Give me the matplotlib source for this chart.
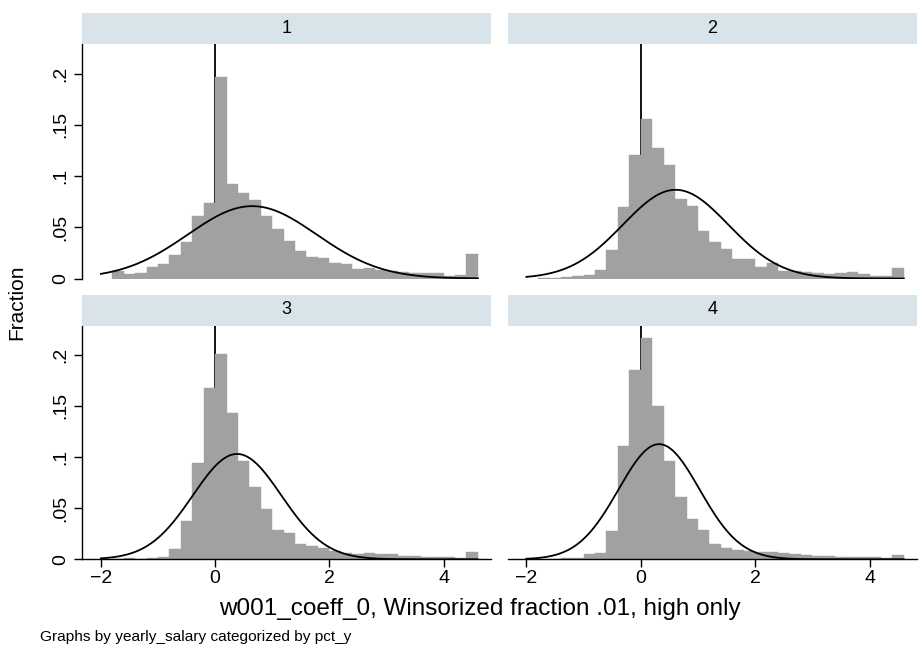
import numpy as np
import matplotlib.pyplot as plt
from matplotlib.patches import Rectangle

plt.rcParams['font.family'] = ['Liberation Sans', 'DejaVu Sans']

# histogram bins: width 0.2 starting at -1.8
bin_start = -1.8
bin_width = 0.2

groups = ['1', '2', '3', '4']

frac_1 = [0.0078, 0.0046, 0.0050, 0.0110, 0.0140, 0.0230, 0.0360, 0.0610,
          0.0740, 0.1970, 0.0920, 0.0830, 0.0770, 0.0610, 0.0480, 0.0370,
          0.0270, 0.0210, 0.0200, 0.0150, 0.0137, 0.0090, 0.0100, 0.0085,
          0.0070, 0.0060, 0.0055, 0.0050, 0.0055, 0.0026, 0.0036, 0.0240]
frac_2 = [0.0007, 0.0007, 0.0010, 0.0020, 0.0030, 0.0085, 0.0280, 0.0695,
          0.1206, 0.1560, 0.1270, 0.1110, 0.0780, 0.0705, 0.0460, 0.0360,
          0.0290, 0.0195, 0.0190, 0.0117, 0.0150, 0.0078, 0.0078, 0.0068,
          0.0055, 0.0045, 0.0050, 0.0060, 0.0045, 0.0026, 0.0023, 0.0098]
frac_3 = [0.0003, 0.0010, 0.0003, 0.0013, 0.0023, 0.0100, 0.0377, 0.0946,
          0.1677, 0.2009, 0.1427, 0.0956, 0.0705, 0.0490, 0.0286, 0.0254,
          0.0146, 0.0130, 0.0110, 0.0085, 0.0060, 0.0049, 0.0058, 0.0055,
          0.0049, 0.0032, 0.0030, 0.0023, 0.0023, 0.0020, 0.0013, 0.0068]
frac_4 = [0.0007, 0.0007, 0.0013, 0.0016, 0.0052, 0.0065, 0.0280, 0.1110,
          0.1850, 0.2165, 0.1500, 0.0965, 0.0610, 0.0390, 0.0286, 0.0146,
          0.0114, 0.0094, 0.0081, 0.0068, 0.0072, 0.0065, 0.0052, 0.0042,
          0.0032, 0.0030, 0.0026, 0.0020, 0.0020, 0.0020, 0.0013, 0.0040]

# normal overlay parameters (mean, sd) per group
norm_mean = [0.65, 0.61, 0.385, 0.32]
norm_sd = [1.13, 0.922, 0.775, 0.709]

xticks = [-2, 0, 2, 4]
yticks = [0, 0.05, 0.1, 0.15, 0.2]
ytick_labels = ['0', '.05', '.1', '.15', '.2']

W, H = 921, 653
fig = plt.figure(figsize=(W / 100, H / 100), dpi=100)

# pixel boxes (left, top, right, bottom) of the four plot regions
boxes = [(82, 44.3, 491, 278.5), (507.5, 44.3, 917, 278.5),
         (82, 325.5, 491, 559.3), (507.5, 325.5, 917, 559.3)]
strip_h = 31

bar_color = '#a1a1a1'
strip_color = '#d8e4ea'
fs_tick = 14

data = [frac_1, frac_2, frac_3, frac_4]
for k, (l, t, r, b) in enumerate(boxes):
    ax = fig.add_axes([l / W, 1 - b / H, (r - l) / W, (b - t) / H])
    fr = np.array(data[k])
    lefts = bin_start + bin_width * np.arange(len(fr))
    ax.axvline(0, color='black', lw=1.3, zorder=1)
    ax.bar(lefts, fr, width=bin_width, align='edge', color=bar_color,
           edgecolor=bar_color, lw=0.3, zorder=2)
    xs = np.linspace(-2, 4.6, 400)
    dens = bin_width * np.exp(-0.5 * ((xs - norm_mean[k]) / norm_sd[k]) ** 2) \
        / (norm_sd[k] * np.sqrt(2 * np.pi))
    ax.plot(xs, dens, color='black', lw=1.3, zorder=3)
    ax.set_xlim(-2.33, 4.83)
    ax.set_ylim(0, 0.2285)

    for s in ['top', 'right']:
        ax.spines[s].set_visible(False)
    left_col = k % 2 == 0
    bottom_row = k >= 2
    ax.spines['left'].set_visible(left_col)
    ax.spines['bottom'].set_visible(bottom_row)
    for s in ['left', 'bottom']:
        ax.spines[s].set_linewidth(1.0)

    if left_col:
        ax.set_yticks(yticks)
        ax.set_yticklabels(ytick_labels, rotation=90, va='center')
        ax.tick_params(axis='y', length=6, width=1.0, labelsize=fs_tick, pad=3)
    else:
        ax.set_yticks([])
    if bottom_row:
        ax.set_xticks(xticks)
        ax.set_xticklabels(['\u22122', '0', '2', '4'])
        ax.tick_params(axis='x', length=6, width=1.0, labelsize=fs_tick, pad=2)
    else:
        ax.set_xticks([])

    # group header strip
    fig.add_artist(Rectangle((l / W, 1 - t / H), (r - l) / W, strip_h / H,
                             transform=fig.transFigure, facecolor=strip_color,
                             edgecolor='none'))
    fig.text((l + r) / 2 / W, 1 - (t - strip_h / 2) / H, groups[k],
             ha='center', va='center', fontsize=13)

fig.text(17 / W, 1 - 302 / H, 'Fraction', rotation=90, ha='center',
         va='center', fontsize=15)
fig.text(480 / W, 1 - 609 / H, 'w001_coeff_0, Winsorized fraction .01, high only',
         ha='center', va='center', fontsize=17.5)
fig.text(40 / W, 1 - 637 / H, 'Graphs by yearly_salary categorized by pct_y',
         ha='left', va='center', fontsize=11.1)

fig.savefig('out.png', dpi=100, facecolor='white')
